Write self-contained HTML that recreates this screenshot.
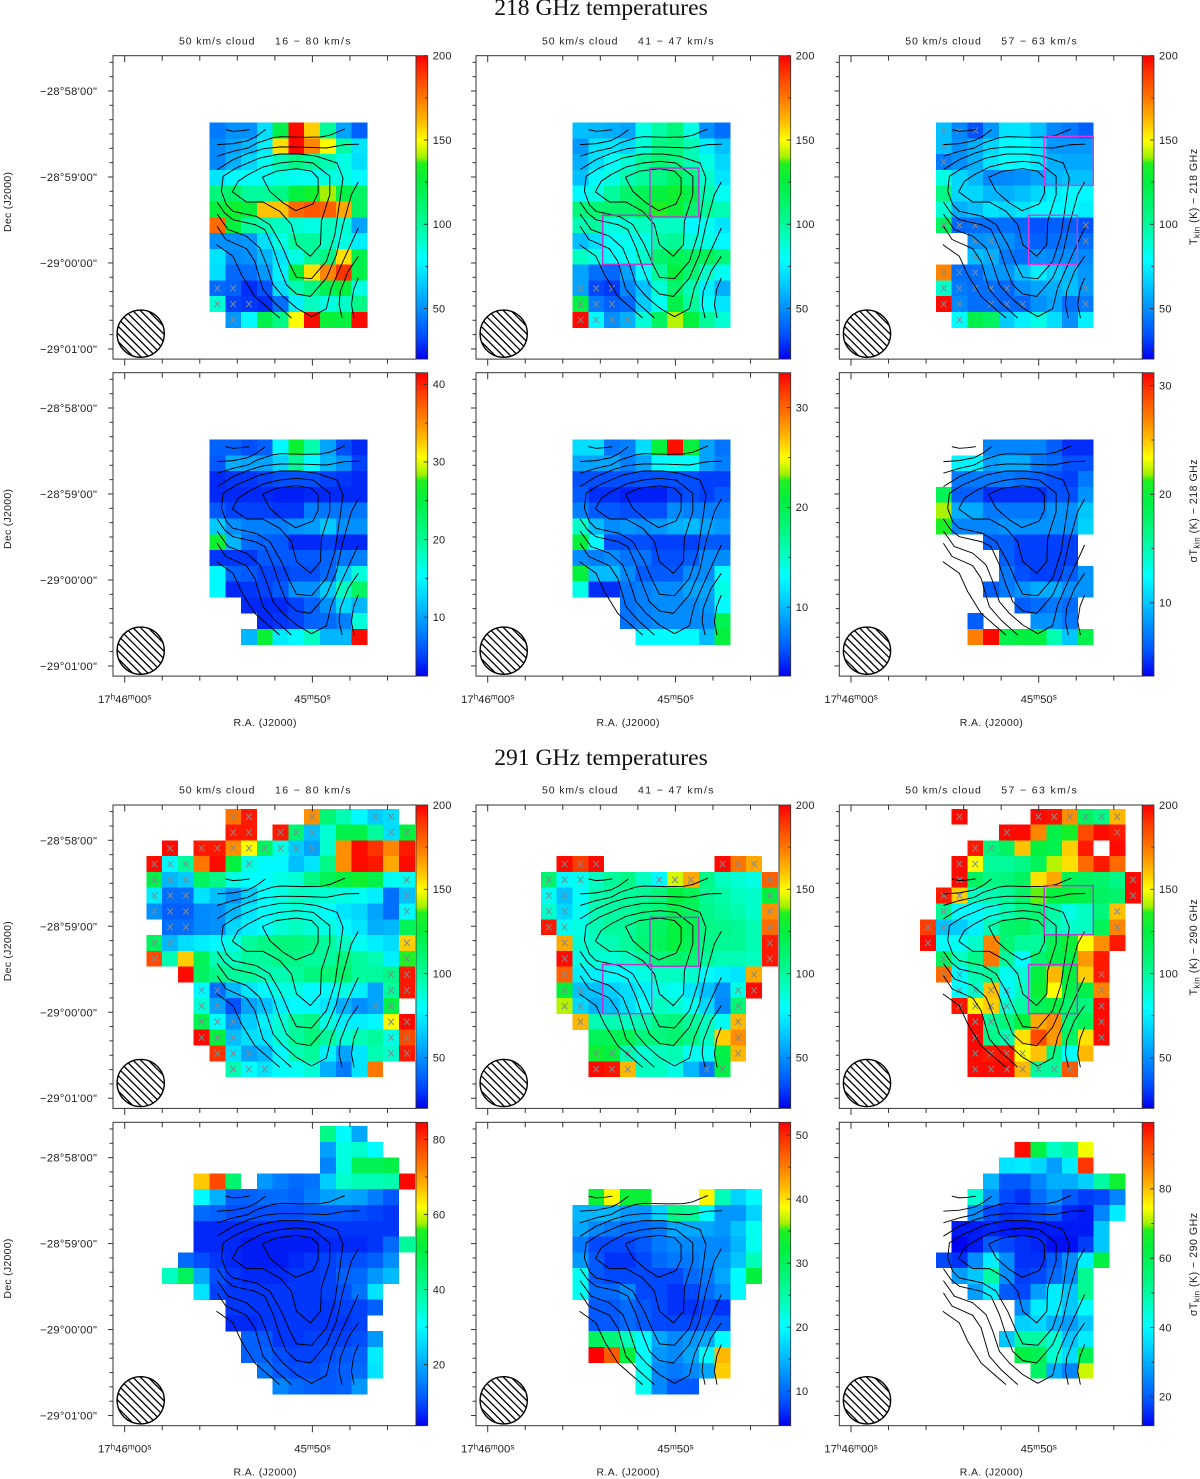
<!DOCTYPE html>
<html lang="en">
<head>
<meta charset="utf-8">
<title>218 and 291 GHz temperatures</title>
<style>
html,body{margin:0;padding:0;background:#fff}
svg{display:block}
text{font-family:"Liberation Sans",sans-serif;fill:#222}
.main{font-family:"Liberation Serif",serif;font-size:23.6px;fill:#111}
</style>
</head>
<body>
<svg id="chart" xmlns="http://www.w3.org/2000/svg" width="1200" height="1479" viewBox="0 0 1200 1479">
<defs id="defs"></defs>
<text class="main" x="601" y="15" text-anchor="middle">218 GHz temperatures</text>
<text class="main" x="601" y="765" text-anchor="middle">291 GHz temperatures</text>
</svg>
<script>
const n = null;

/* Map values: [row, first column, values in colour-bar units] */
const t218Full = [
[4,4,[45,50,50,70,122,198,158,100,55,38]],
[5,4,[48,55,60,75,155,198,172,150,98,72]],
[6,4,[48,58,68,82,95,105,100,95,85,70]],
[7,4,[72,78,80,82,85,82,82,85,85,78]],
[8,4,[108,112,100,100,105,125,130,140,122,115]],
[9,4,[125,130,125,160,160,178,182,180,165,115]],
[10,4,[178,125,100,95,92,88,85,92,88,55]],
[11,4,[50,50,52,70,85,100,100,92,85,75]],
[12,4,[72,48,50,60,72,85,100,105,155,122]],
[13,4,[70,40,42,52,75,125,155,172,190,122]],
[14,4,[40,38,28,35,70,95,105,120,125,85]],
[15,4,[88,32,30,28,42,75,92,85,90,105]],
[16,5,[52,78,122,105,150,198,128,125,198]]
];
const t218Blue = [
[4,4,[62,60,58,55,85,98,108,85,50,42]],
[5,4,[52,72,72,68,88,105,108,95,75,62]],
[6,4,[58,70,80,88,100,110,105,95,85,68]],
[7,4,[62,78,85,95,100,105,115,105,90,72]],
[8,4,[78,85,100,112,118,125,130,122,95,82]],
[9,4,[108,110,112,112,120,135,128,112,100,95]],
[10,4,[95,100,85,88,92,92,92,78,82,72]],
[11,4,[62,70,80,82,85,98,102,88,85,78]],
[12,4,[92,85,80,82,90,112,118,115,118,110]],
[13,4,[55,42,40,55,78,100,125,110,90,82]],
[14,4,[55,33,30,48,62,88,112,95,75,58]],
[15,4,[122,45,38,40,65,82,122,100,80,72]],
[16,4,[198,78,50,58,88,115,142,125,100,88]]
];
const t218Red = [
[4,4,[62,48,35,52,72,72,62,48,45,38]],
[5,4,[62,50,58,68,78,80,72,52,52,52]],
[6,4,[45,50,58,72,80,78,72,58,56,56]],
[7,4,[85,68,60,48,48,50,55,60,62,62]],
[8,4,[105,68,68,60,58,62,68,75,78,78]],
[9,4,[88,58,62,72,68,72,78,78,78,75]],
[10,4,[115,40,42,42,42,40,35,38,38,35]],
[11,6,[50,52,50,45,38,42,45,42]],
[12,6,[62,58,45,42,50,48,50,48]],
[13,4,[172,42,42,52,52,62,75,65,60,52]],
[14,4,[90,45,42,42,40,50,55,58,62,52]],
[15,4,[198,48,42,42,40,40,50,55,42,45]],
[16,5,[80,122,115,65,75,85,70,50,75]]
];
const s218Full = [
[4,4,[6.5,6.5,5.5,6.5,15,26,19,10,5.5,4]],
[5,4,[6,10.5,10,10,12.5,20,15,11,9,5]],
[6,4,[4,4.5,4.5,5,5.5,5.5,5.5,5,4.5,4]],
[7,4,[4,4,4,4,3.6,3.6,4,4,4,4]],
[8,4,[6,5,5,5,4.5,4.5,8,7.5,7.5,7.5]],
[9,4,[12,9,8,8,8,9,9.5,12,9,9]],
[10,4,[26,11,7,6.5,6,4,4,5,4,4]],
[11,4,[4.5,4.5,4.5,6,6,6,6,6.5,7.5,8]],
[12,4,[15,6.5,6,5,5,5.5,5.5,7,12,17]],
[13,4,[15,4,4.5,5,6,9,9,12,18,23]],
[14,6,[4,4,4,5,6.5,9,13,11]],
[15,7,[4,4.5,5,6.5,7,8,17]],
[16,6,[11,26,14,15,18,11,11,41]]
];
const s218Blue = [
[4,4,[11.5,11.5,7,7.5,11.5,21,33,21,9,7]],
[5,4,[9,9,9,7.5,9,13,13.5,13,9,7.5]],
[6,4,[5.5,5.5,5.5,5.5,5.5,5.5,5.5,5.5,5,5]],
[7,4,[6,4.5,4.5,4,4,4,5,5.5,5,6]],
[8,4,[7.5,6,6,5.5,5.5,5.5,8,7.5,7.5,7.5]],
[9,4,[15,10,8,8.5,8,8.5,9.5,10,9,8.5]],
[10,4,[21,13,5.5,5.5,5.5,5,5,5,6,6]],
[11,4,[8,7.5,8,7,7,5.5,5.5,6,8,8]],
[12,4,[21,10,10,8,6,6,6,8,8,13]],
[13,4,[14,4.5,4.5,7,7.5,8,8,9,9,14]],
[14,7,[7,7.5,8,8,8,8.5,13]],
[15,7,[7,7.5,8,8,8,8,20]],
[16,8,[13,13,13,13,10,21]]
];
const s218Red = [
[4,7,[7.5,7.5,7.5,7.5,6,4.5,4.5]],
[5,5,[12,12,8.5,9,9,7,6.5,5.5,5.5]],
[6,5,[7,7,7,7,6.5,6,5.5,5,7]],
[7,4,[18.5,6,6,4.5,4.5,4.5,4.5,5.5,5.5,8]],
[8,4,[22,9,9,7,7,7,7,8,8,10]],
[9,4,[21,7.5,7.5,7.5,8,8,8,8,8,10.5]],
[10,7,[6,6,5,5,5,5]],
[11,8,[6,5,5,5,5]],
[12,8,[7,5.5,5,5,6,8]],
[13,7,[6,7,8,9,9,8,8]],
[14,9,[6,6.5,7,6.5]],
[15,6,[6,n,n,n,8,8,7]],
[16,6,[27,31,19,19.5,19.5,15,10,19]]
];
const t291Full = [
[0,5,[176,195,n,n,n,170,110,95,78,65,70]],
[1,5,[195,195,n,195,110,62,88,122,122,100,70,125]],
[2,1,[198,n,195,195,170,150,115,85,65,55,90,170,198,190,172,195]],
[3,0,[198,78,100,175,198,125,85,78,78,62,72,105,170,198,195,165,198]],
[4,0,[122,60,65,115,105,85,80,80,85,88,105,118,125,130,122,82,82]],
[5,0,[75,42,42,72,62,52,65,80,85,92,90,88,85,82,75,42,62]],
[6,0,[50,38,38,48,50,60,72,80,85,88,85,80,72,68,55,42,78]],
[7,1,[42,42,48,50,68,75,80,88,92,88,85,78,72,58,60,118]],
[8,0,[115,60,70,75,78,85,100,105,108,108,105,100,92,82,75,70,158]],
[9,0,[185,95,158,118,95,92,100,100,105,105,100,100,108,100,95,75,135]],
[10,2,[198,115,105,100,100,95,95,100,108,110,112,100,100,105,195]],
[11,3,[78,42,60,72,78,85,85,78,78,85,75,55,100,195]],
[12,3,[88,55,35,55,62,75,78,78,72,58,50,55,122]],
[13,3,[120,80,52,65,75,88,100,105,85,75,75,78,150,198]],
[14,3,[198,125,62,70,72,88,100,108,100,88,95,100,85,185]],
[15,4,[190,72,55,60,78,95,100,75,55,72,95,90,195]],
[16,5,[95,80,72,80,82,88,58,45,72,175]]
];
const t291Blue = [
[3,3,[198,188,198,n,n,n,n,n,n,n,198,175,165]],
[4,2,[112,78,82,92,100,105,92,78,145,165,105,92,88,85,180]],
[5,2,[82,62,80,95,98,100,102,108,125,118,102,98,92,90,125]],
[6,2,[90,68,82,95,98,100,105,110,120,116,104,100,96,90,170]],
[7,2,[195,82,85,95,100,100,108,115,125,120,106,104,102,95,178]],
[8,3,[165,88,92,95,100,110,118,125,118,104,102,102,95,195]],
[9,3,[198,85,88,88,92,100,108,112,110,100,95,95,92,195]],
[10,3,[180,75,75,78,78,85,92,92,90,78,75,72,165]],
[11,3,[125,62,62,66,70,75,85,82,72,62,50,85,198]],
[12,3,[142,68,58,62,70,80,92,88,82,68,48,110]],
[13,4,[162,95,95,92,95,105,108,100,92,82,162]],
[14,5,[118,118,118,108,108,112,105,92,158,170]],
[15,5,[130,125,95,88,92,95,82,82,122,162]],
[16,5,[198,196,162,92,92,85,60,45,122]]
];
const t291Red = [
[0,5,[198,n,n,n,n,198,196,170,115,105,162]],
[1,8,[198,198,172,122,132,185,198,195]],
[2,6,[195,108,115,160,125,120,158,195,n,198]],
[3,5,[198,150,100,100,105,118,142,155,178,195,178]],
[4,5,[198,115,105,108,115,155,165,118,115,112,105,198]],
[5,4,[195,158,92,95,100,112,138,125,125,122,115,112,198]],
[6,4,[102,78,78,85,95,105,110,98,85,92,108,160]],
[7,3,[188,62,65,75,95,112,115,108,95,90,92,118,172]],
[8,3,[198,80,82,90,172,110,100,100,118,128,150,170,195]],
[9,4,[115,92,105,175,100,80,112,122,122,168,195]],
[10,4,[178,78,95,100,82,88,125,162,125,158,195]],
[11,5,[80,90,160,78,92,128,150,122,122,172]],
[12,5,[196,152,158,88,98,118,122,112,108,198]],
[13,6,[198,100,108,125,165,170,110,118,198]],
[14,6,[198,105,95,155,185,168,115,155,198]],
[15,6,[198,195,195,150,160,105,80,162]],
[16,6,[198,198,198,162,100,100,182]]
];
const s291Full = [
[0,11,[42,30,20]],
[1,11,[19,33,35,30]],
[2,11,[16,33,48,48,50]],
[3,3,[66,78,45,n,18,15,13,14,24,35,37,37,38,84]],
[4,3,[30,21,12,12,13,13,12,15,19,20,19,15,11]],
[5,3,[13,12,10,10,10,10,10,11,11,11,10,9,8]],
[6,3,[7,7,7,7,7,7,7,7,8,8,8,8,8]],
[7,3,[7,7,7,6,6,6,6,6,7,7,7,8,13,40]],
[8,2,[13,10,8,7,6,6,6,7,8,9,10,10,12,17]],
[9,1,[36,47,20,10,8,7,7,7,8,8,9,12,13,18,22]],
[10,3,[27,9,8,8,8,8,8,8,9,10,14,27]],
[11,5,[8,8,8,8,8,8,8,9,9,12]],
[12,5,[7,7,8,8,8,8,8,8,9]],
[13,6,[12,11,8,8,9,9,9,10,18]],
[14,6,[12,12,10,9,9,10,11,12,28]],
[15,7,[14,11,10,10,11,12,13,27]],
[16,8,[16,13,12,11,12,18]]
];
const s291Blue = [
[4,5,[33,39,33,33,n,n,n,39,24,17,20]],
[5,4,[15,15,15,13,13,17,27,26,20,13,13,17]],
[6,4,[14,12,11,10,10,11,14,14,14,13,16,21]],
[7,4,[11,8,8,8,9,11,12,12,12,12,15,21]],
[8,4,[13,9,7,7,8,10,11,11,12,13,16,24]],
[9,4,[21,9,8,8,8,8,8,10,11,14,20,32]],
[10,4,[21,10,10,12,8,8,7,8,10,12,20]],
[11,5,[9,9,10,9,8,7,7,8,7]],
[12,5,[9,9,10,9,8,8,8,9,9]],
[13,5,[30,28,24,20,14,12,13,14,20]],
[14,5,[52,47,32,20,13,12,14,20,42]],
[15,8,[21,12,11,12,14,41]],
[16,8,[21,12,9,9]]
];
const s291Red = [
[1,9,[98,62,46,50,74]],
[2,8,[37,38,35,28,38,94]],
[3,7,[31,20,20,25,30,30,34,50,65]],
[4,6,[45,26,18,16,22,26,20,17,18,25]],
[5,6,[26,18,16,17,18,20,15,14,25,38]],
[6,5,[14,14,15,14,14,14,14,14,14,33]],
[7,5,[12,14,20,18,16,15,13,13,17,33]],
[8,4,[18,16,26,38,26,16,16,20,26,38,62]],
[9,5,[28,33,50,26,17,18,22,26,52]],
[10,6,[28,38,20,18,28,38,33,52]],
[11,9,[26,38,38,33,40]],
[12,9,[34,35,30,28,33]],
[13,8,[33,50,50,45,33,38]],
[14,9,[62,60,45,36,60]],
[15,10,[58,30,25,72]]
];

/* Flagged pixels: [row, [columns]] */
const flags218Full = [[14,[4,5]],[15,[4,5,6]],[16,[5]]];
const flags218Blue = [[14,[4,5,6]],[15,[4,5,6]],[16,[4,5,6,7]]];
const flags218Red = [[4,[4,5,6]],[5,[4]],[6,[4]],[10,[4,5,6,13]],[11,[6,7,13]],[12,[6,7]],[13,[4,5,6]],[14,[4,5,6,7,8,13]],[15,[4,5,7,8,9,13]],[16,[5]]];
const flags291Full = [[0,[5,6,10,14,15]],[1,[5,6,8,9,10,15,16]],[2,[1,3,4,5,6,7,8,9,10]],[3,[0,1,2,6]],[4,[0,1,2,16]],[5,[0,1,2,16]],[6,[0,1,2,16]],[7,[1,2]],[8,[0,1,16]],[9,[0,16]],[10,[15,16]],[11,[3,4,15,16]],[12,[3,4,14,15]],[13,[3,4,5,15,16]],[14,[3,4,5,15,16]],[15,[4,5,6,15,16]],[16,[5,6,7]]];
const flags291Blue = [[3,[3,4,5,13,14,15]],[4,[2,3,4,9,10,11,16]],[5,[2,3,16]],[6,[2,3,16]],[7,[2,3,16]],[8,[3,16]],[9,[3,16]],[10,[3,15]],[11,[3,4,14,15]],[12,[3,4,14]],[13,[4,14]],[14,[14]],[15,[5,6,7,14]],[16,[5,6,7,12,13]]];
const flags291Red = [[0,[5,10,11,12,13,14,15]],[1,[8,15]],[2,[6,7]],[3,[5,6]],[4,[5,16]],[5,[4,5,16]],[6,[4,15]],[7,[3,4,15]],[8,[3]],[9,[4]],[10,[4,5,14]],[11,[5,6,7,8,14]],[12,[5,6,7,8,14]],[13,[6,7,14]],[14,[6,8,14]],[15,[6,7,8,9]],[16,[6,7,8,9,10,11,12]]];

/* Integrated-intensity contours, as [map column, map row] vertices */
const contourLines = [
[[5.01,4.44],[5.49,4.55],[6.02,4.51],[6.53,4.44]],
[[4.48,5.39],[5.49,5.33],[6.44,5.14],[6.97,4.87],[7.54,4.44]],
[[4.48,6.13],[5.49,5.82],[6.44,5.61],[7.01,5.29],[7.98,4.97],[8.51,4.89],[9.97,4.93],[11.03,4.91],[11.62,4.80],[12.57,4.40]],
[[4.48,6.98],[5.49,6.35],[6.51,5.92],[7.44,5.65],[8.51,5.54],[9.97,5.56],[11.41,5.61],[12.57,5.39],[13.48,5.37]],
[[4.75,8.35],[4.86,7.40],[5.70,6.87],[7.18,6.24],[8.45,5.99],[9.72,5.99],[10.77,6.13],[12.08,6.56],[12.46,7.51],[12.29,8.77],[11.94,11.10],[11.41,12.79],[10.46,13.89],[9.51,13.80],[9.08,12.96],[8.55,11.73],[7.82,10.46],[6.97,9.94],[5.49,9.62],[5.07,9.20],[4.75,8.35]],
[[5.45,8.39],[5.81,7.72],[6.44,7.30],[7.39,6.81],[8.45,6.56],[9.51,6.45],[10.56,6.56],[11.62,7.40],[11.62,8.56],[11.09,10.25],[11.03,11.73],[10.39,12.47],[9.51,11.73],[9.19,10.46],[8.45,9.62],[7.39,9.03],[6.34,9.03],[5.45,8.39]],
[[7.35,7.46],[8.24,7.08],[9.51,6.92],[10.46,7.08],[10.88,7.51],[10.88,8.46],[10.56,9.15],[9.46,9.58],[8.66,9.09],[7.82,8.35],[7.35,7.46]],
[[4.48,9.03],[4.96,9.73],[5.49,10.15],[6.87,10.46],[7.50,10.78],[8.03,11.94],[8.45,13.21],[8.87,14.27],[9.51,14.86],[10.39,15.01],[11.41,13.84],[12.04,12.37],[12.46,10.46],[12.99,8.56],[13.43,7.76]],
[[4.48,9.79],[5.18,10.78],[6.34,11.20],[7.18,11.94],[7.60,12.96],[8.03,14.27],[8.66,15.01],[9.51,15.75],[10.46,16.30],[11.41,15.79],[11.72,14.48],[12.46,12.79],[13.43,10.68]],
[[4.48,10.57],[5.03,11.41],[6.34,11.99],[6.87,12.79],[7.39,14.58],[8.13,15.43],[9.19,16.38]],
[[4.44,11.73],[5.49,12.47],[6.02,13.63],[6.87,15.01],[7.71,15.75],[8.45,16.38]],
[[13.43,12.47],[12.78,13.42],[12.29,14.69],[12.21,15.53],[12.40,16.38]],
[[13.43,13.84],[13.14,14.58],[12.99,15.53],[13.16,16.38]]
];

/* Analysis boxes: [column start, column end, row start, row end] */
const boxesBlue = [[8.91,12.0,6.88,9.98],[5.91,9.02,9.87,12.98]];
const boxesRed = [[10.87,13.98,4.87,7.98],[9.88,12.97,9.87,12.98]];

/* Axis ticks */
const raTickSeconds = [0,2,4,6,8,10,12,14];
const raMajorTicks = [0,10];
const raTickLabels = [["17","h","46","m","00","s"],["45","m","50","s"]];
const decTickArcsec = [-20,-10,0,10,20,30,40,50,60,70,80,90,100,110,120,130,140,150,160,170,180];
const decMajorTicks = [0,60,120,180];
const decTickLabels = ["\u221228\u00b058'00\"","\u221228\u00b059'00\"","\u221229\u00b000'00\"","\u221229\u00b001'00\""];
const velocityLabels = ["16 \u2212 80 km/s","41 \u2212 47 km/s","57 \u2212 63 km/s"];

/* Colour-bar ranges and labels */
const rangeT = [20,200];
const ticksT = [50,100,150,200];
const rangeS1 = [2.4,41.5];
const ticksS1 = [10,20,30,40];
const rangeS2 = [3.1,33.5];
const ticksS2 = [10,20,30];
const rangeS3 = [3.25,31.2];
const ticksS3 = [10,20,30];
const rangeS4 = [3.7,84.6];
const ticksS4 = [20,40,60,80];
const rangeS5 = [4.6,52];
const ticksS5 = [10,20,30,40,50];
const rangeS6 = [11.7,99.2];
const ticksS6 = [20,40,60,80];

const colourStops = [[0,"#0000f0"],[.08,"#0050ff"],[.167,"#0090ff"],[.25,"#00ccff"],[.33,"#00ffff"],[.40,"#00ffc0"],[.47,"#00f888"],[.58,"#00f040"],[.645,"#20f020"],[.665,"#a0f000"],[.72,"#ffff00"],[.78,"#ffc000"],[.85,"#ff8000"],[.93,"#ff4000"],[1,"#ff0000"]];

const panels = [
{row:0,col:0,vals:t218Full,flags:flags218Full,range:rangeT,ticks:ticksT,minor:25,boxes:[]},
{row:0,col:1,vals:t218Blue,flags:flags218Blue,range:rangeT,ticks:ticksT,minor:25,boxes:boxesBlue},
{row:0,col:2,vals:t218Red,flags:flags218Red,range:rangeT,ticks:ticksT,minor:25,boxes:boxesRed},
{row:1,col:0,vals:s218Full,flags:[],range:rangeS1,ticks:ticksS1,minor:5,boxes:[]},
{row:1,col:1,vals:s218Blue,flags:[],range:rangeS2,ticks:ticksS2,minor:5,boxes:[]},
{row:1,col:2,vals:s218Red,flags:[],range:rangeS3,ticks:ticksS3,minor:5,boxes:[]},
{row:2,col:0,vals:t291Full,flags:flags291Full,range:rangeT,ticks:ticksT,minor:25,boxes:[]},
{row:2,col:1,vals:t291Blue,flags:flags291Blue,range:rangeT,ticks:ticksT,minor:25,boxes:boxesBlue},
{row:2,col:2,vals:t291Red,flags:flags291Red,range:rangeT,ticks:ticksT,minor:25,boxes:boxesRed},
{row:3,col:0,vals:s291Full,flags:[],range:rangeS4,ticks:ticksS4,minor:10,boxes:[]},
{row:3,col:1,vals:s291Blue,flags:[],range:rangeS5,ticks:ticksS5,minor:5,boxes:[]},
{row:3,col:2,vals:s291Red,flags:[],range:rangeS6,ticks:ticksS6,minor:10,boxes:[]}
];

const frameLefts = [113,476,839.3];
const frameTops = [55.7,372.7,805,1122.3];
const titleCentres = [141,138,142,142];
const FW = 303, FH = 303.4, CBW = 11.7;
const GX = 33.4, GY = 3.8, CELL = 15.78;
const svg = document.getElementById('chart');
const defs = document.getElementById('defs');
const NS = 'http://www.w3.org/2000/svg';

function make(tag, attrs, parent, txt){
  const e = document.createElementNS(NS, tag);
  for (const k in attrs) e.setAttribute(k, attrs[k]);
  if (txt !== undefined) e.textContent = txt;
  parent.appendChild(e);
  return e;
}
function hex(c){ return [1,3,5].map(i => parseInt(c.substr(i,2),16)); }
function colour(t){
  t = Math.max(0, Math.min(1, t));
  for (let i = 1; i < colourStops.length; i++){
    if (t <= colourStops[i][0]){
      const a = colourStops[i-1], b = colourStops[i];
      const f = (t-a[0])/(b[0]-a[0]);
      const A = hex(a[1]), B = hex(b[1]);
      return 'rgb(' + A.map((v,j) => Math.round(v+(B[j]-v)*f)).join(',') + ')';
    }
  }
  return colourStops[colourStops.length-1][1];
}

const grad = make('linearGradient', {id:'cmap',x1:0,y1:1,x2:0,y2:0}, defs);
colourStops.forEach(s => make('stop', {offset:s[0],'stop-color':s[1]}, grad));

panels.forEach((p, idx) => {
  const fx = frameLefts[p.col], fy = frameTops[p.row];
  const colX = c => fx + GX + CELL*c;
  const rowY = r => fy + GY + CELL*r;
  const raX = s => fx + 11.7 + 18.77*s;
  const decY = d => fy + 35.3 + 1.433*d;
  const cbY = v => fy + FH*(1-(v-p.range[0])/(p.range[1]-p.range[0]));

  const g = make('g', {}, svg);
  
  

  // heatmap
  const cells = make('g', {'shape-rendering':'crispEdges'}, g);
  
  
  p.vals.forEach(rowData => {
    const r = rowData[0], c0 = rowData[1];
    rowData[2].forEach((v, i) => {
      if (v === null) return;
      const cell = make('rect', {x:colX(c0+i).toFixed(2),y:rowY(r).toFixed(2),width:CELL+.1,height:CELL+.1,
        fill:colour((v-p.range[0])/(p.range[1]-p.range[0]))}, cells);
      
      
    });
  });

  // flagged pixels
  p.flags.forEach(fl => {
    fl[1].forEach(c => {
      const cx = colX(c)+CELL/2, cy = rowY(fl[0])+CELL/2;
      const mark = make('path', {d:`M${cx-2.8} ${cy-3.2}L${cx+2.8} ${cy+3.2}M${cx+2.8} ${cy-3.2}L${cx-2.8} ${cy+3.2}`,
        stroke:'#7f8a8f','stroke-width':1,fill:'none'}, g);
      
      
    });
  });

  // contours
  contourLines.forEach(line => {
    const pts = line.map(q => colX(q[0]).toFixed(1)+','+rowY(q[1]).toFixed(1)).join(' ');
    const pl = make('polyline', {points:pts,fill:'none',stroke:'#000','stroke-width':.95,'stroke-linejoin':'round'}, g);
    
    
  });

  // analysis boxes
  p.boxes.forEach(b => {
    const box = make('rect', {x:colX(b[0]),y:rowY(b[2]),width:colX(b[1])-colX(b[0]),height:rowY(b[3])-rowY(b[2]),
      fill:'none',stroke:p.row===0&&p.col===2?'#e038e0':'#b838d0','stroke-width':1.4}, g);
    
    
  });

  // beam
  const bx = fx+27.7, by = fy+278, br = 23.6;
  const clip = make('clipPath', {id:'beam'+idx}, defs);
  make('circle', {cx:bx,cy:by,r:br}, clip);
  const beam = make('g', {}, g);
  
  
  const hatch = make('g', {'clip-path':`url(#beam${idx})`,stroke:'#000','stroke-width':1.3}, beam);
  for (let k = -5; k <= 5; k++){
    const off = k*7.6;
    make('line', {x1:bx-30+off,y1:by-30,x2:bx+30+off,y2:by+30}, hatch);
  }
  make('circle', {cx:bx,cy:by,r:br,fill:'none',stroke:'#000','stroke-width':1.4}, beam);

  // frame
  const frame = make('rect', {x:fx,y:fy,width:FW,height:FH,fill:'none',stroke:'#333','stroke-width':1}, g);
  
  

  // RA ticks
  raTickSeconds.forEach(s => {
    const major = raMajorTicks.includes(s), x = raX(s);
    const top = make('line', {x1:x,x2:x,y1:fy,y2:fy+(major?6.5:5),stroke:'#333','stroke-width':1}, g);
    
    
    const bot = make('line', {x1:x,x2:x,y1:fy+FH,y2:fy+FH+(major?6.5:4.5),stroke:'#333','stroke-width':1}, g);
    
    
  });
  // Dec ticks
  decTickArcsec.forEach(d => {
    const major = decMajorTicks.includes(d), y = decY(d);
    const t = make('line', {x1:fx-(major?5:3.5),x2:fx,y1:y,y2:y,stroke:'#333','stroke-width':1}, g);
    
    
  });

  // Colour bar
  const bar = make('rect', {x:fx+FW,y:fy,width:CBW,height:FH,fill:'url(#cmap)',stroke:'#333','stroke-width':.8}, g);
  
  
  for (let v = Math.ceil(p.range[0]/p.minor)*p.minor; v <= p.range[1]; v += p.minor){
    const major = p.ticks.includes(v), y = cbY(v);
    const t = make('line', {x1:fx+FW+CBW-(major?4:2.6),x2:fx+FW+CBW,y1:y,y2:y,stroke:'#333','stroke-width':.9}, g);
    
    
  }
  p.ticks.forEach(v => {
    const l = make('text', {x:fx+FW+CBW+5,y:cbY(v)+3.8,'font-size':11,'letter-spacing':.25}, g, String(v));
    
    
  });

  // Panel titles on temperature rows
  if (p.row % 2 === 0){
    const t1 = make('text', {x:fx+66,y:fy-11.3,'font-size':10.5,textLength:75.5,lengthAdjust:'spacing'}, g, '50 km/s cloud');
    
    
    const t2 = make('text', {x:fx+162,y:fy-11.3,'font-size':10.5,textLength:75.5,lengthAdjust:'spacing'}, g, velocityLabels[p.col]);
    
    
  }

  // Dec labels, first column
  if (p.col === 0){
    decMajorTicks.forEach((d, i) => {
      const l = make('text', {x:fx-73,y:decY(d)+4,'font-size':11.2,textLength:57,lengthAdjust:'spacing'}, g, decTickLabels[i]);
      
      
    });
    const cy = fy + 146.3;
    const dl = make('text', {x:7,y:cy,'font-size':10.5,'text-anchor':'middle',transform:`rotate(-90 7 ${cy}) translate(0 4)`,textLength:60,lengthAdjust:'spacing'}, g, 'Dec (J2000)');
    
    
  }

  // RA labels, bottom of each pair
  if (p.row % 2 === 1){
    raMajorTicks.forEach((s, i) => {
      const tx = make('text', {x:raX(s),y:fy+FH+27,'font-size':11.4,'text-anchor':'middle'}, g);
      
      
      raTickLabels[i].forEach((part, j) => {
        const sup = j % 2 === 1;
        const back = j > 0 && !sup;
        const a = {'font-size': sup ? 8.2 : 11.4};
        if (sup) a.dy = -3.4;
        if (back) a.dy = 3.4;
        make('tspan', a, tx, part);
      });
    });
    const ra = make('text', {x:fx+152,y:fy+FH+50,'font-size':10.5,'text-anchor':'middle',textLength:63,lengthAdjust:'spacing'}, g, 'R.A. (J2000)');
    
    
  }

  // Colour-bar title, third column
  if (p.col === 2){
    const sigma = p.row % 2 === 1;
    const freq = p.row < 2 ? '218 GHz' : '290 GHz';
    const cy = fy + titleCentres[p.row];
    const tx = make('text', {x:1197,y:cy,'font-size':10.6,'text-anchor':'middle',transform:`rotate(-90 1197 ${cy})`,'letter-spacing':.5}, g);
    
    
    make('tspan', {}, tx, sigma ? '\u03c3T' : 'T');
    make('tspan', {dy:2.5,'font-size':8}, tx, 'kin');
    make('tspan', {dy:-2.5}, tx, ' (K)  \u2212  ' + freq);
  }
});
</script>
</body>
</html>
